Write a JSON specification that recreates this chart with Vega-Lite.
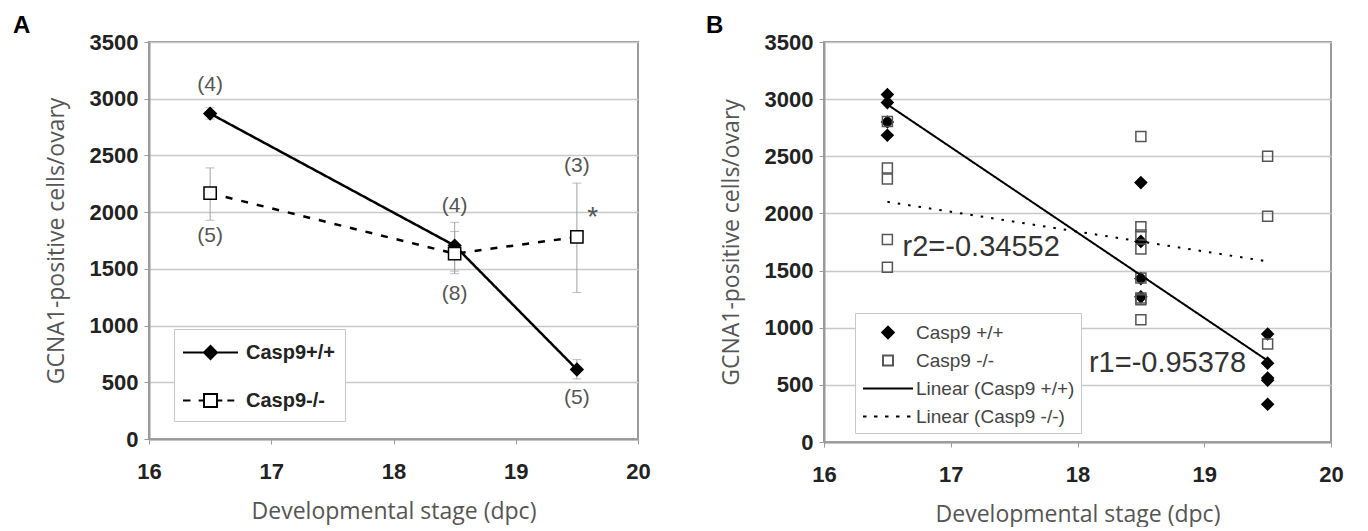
{
  "$schema": "https://vega.github.io/schema/vega-lite/v6.json",
  "background": "white",
  "padding": {"left": 12, "top": 13, "right": 0, "bottom": 0},
  "spacing": 53,
  "resolve": {
    "scale": {"shape": "independent", "fill": "independent", "stroke": "independent", "strokeDash": "independent"},
    "legend": {"shape": "independent", "fill": "independent", "stroke": "independent", "strokeDash": "independent"}
  },
  "datasets": {
    "A_means": [
      {"stage": 16.5, "count": 2869, "lo": 2820, "hi": 2920, "genotype": "Casp9+/+"},
      {"stage": 18.5, "count": 1705, "lo": 1480, "hi": 1910, "genotype": "Casp9+/+"},
      {"stage": 19.5, "count": 613, "lo": 530, "hi": 700, "genotype": "Casp9+/+"},
      {"stage": 16.5, "count": 2167, "lo": 1928, "hi": 2390, "genotype": "Casp9-/-"},
      {"stage": 18.5, "count": 1634, "lo": 1457, "hi": 1830, "genotype": "Casp9-/-"},
      {"stage": 19.5, "count": 1781, "lo": 1291, "hi": 2256, "genotype": "Casp9-/-"}
    ],
    "A_labels": [
      {"stage": 16.5, "count": 3118, "label": "(4)"},
      {"stage": 16.5, "count": 1786, "label": "(5)"},
      {"stage": 18.5, "count": 2052, "label": "(4)"},
      {"stage": 18.5, "count": 1279, "label": "(8)"},
      {"stage": 19.5, "count": 2407, "label": "(3)"},
      {"stage": 19.5, "count": 364, "label": "(5)"}
    ],
    "A_star": [
      {"stage": 19.63, "count": 1945, "label": "*"}
    ],
    "B_points": [
      {"stage": 16.5, "count": 3040, "genotype": "Casp9 +/+"},
      {"stage": 16.5, "count": 2970, "genotype": "Casp9 +/+"},
      {"stage": 16.5, "count": 2800, "genotype": "Casp9 +/+"},
      {"stage": 16.5, "count": 2684, "genotype": "Casp9 +/+"},
      {"stage": 18.5, "count": 2270, "genotype": "Casp9 +/+"},
      {"stage": 18.5, "count": 1755, "genotype": "Casp9 +/+"},
      {"stage": 18.5, "count": 1430, "genotype": "Casp9 +/+"},
      {"stage": 18.5, "count": 1270, "genotype": "Casp9 +/+"},
      {"stage": 19.5, "count": 945, "genotype": "Casp9 +/+"},
      {"stage": 19.5, "count": 690, "genotype": "Casp9 +/+"},
      {"stage": 19.5, "count": 560, "genotype": "Casp9 +/+"},
      {"stage": 19.5, "count": 540, "genotype": "Casp9 +/+"},
      {"stage": 19.5, "count": 330, "genotype": "Casp9 +/+"},
      {"stage": 16.5, "count": 2805, "genotype": "Casp9 -/-"},
      {"stage": 16.5, "count": 2397, "genotype": "Casp9 -/-"},
      {"stage": 16.5, "count": 2301, "genotype": "Casp9 -/-"},
      {"stage": 16.5, "count": 1772, "genotype": "Casp9 -/-"},
      {"stage": 16.5, "count": 1529, "genotype": "Casp9 -/-"},
      {"stage": 18.5, "count": 2674, "genotype": "Casp9 -/-"},
      {"stage": 18.5, "count": 1884, "genotype": "Casp9 -/-"},
      {"stage": 18.5, "count": 1811, "genotype": "Casp9 -/-"},
      {"stage": 18.5, "count": 1689, "genotype": "Casp9 -/-"},
      {"stage": 18.5, "count": 1436, "genotype": "Casp9 -/-"},
      {"stage": 18.5, "count": 1259, "genotype": "Casp9 -/-"},
      {"stage": 18.5, "count": 1245, "genotype": "Casp9 -/-"},
      {"stage": 18.5, "count": 1070, "genotype": "Casp9 -/-"},
      {"stage": 19.5, "count": 2500, "genotype": "Casp9 -/-"},
      {"stage": 19.5, "count": 1975, "genotype": "Casp9 -/-"},
      {"stage": 19.5, "count": 857, "genotype": "Casp9 -/-"}
    ],
    "B_trend": [
      {"stage": 16.5, "count": 2953, "trend": "Linear (Casp9 +/+)"},
      {"stage": 19.5, "count": 712, "trend": "Linear (Casp9 +/+)"},
      {"stage": 16.5, "count": 2102, "trend": "Linear (Casp9 -/-)"},
      {"stage": 19.5, "count": 1580, "trend": "Linear (Casp9 -/-)"}
    ],
    "B_r": [
      {"stage": 16.62, "count": 1702, "label": "r2=-0.34552"},
      {"stage": 18.09, "count": 695, "label": "r1=-0.95378"}
    ]
  },
  "config": {
    "view": {"stroke": "#9a9a9a", "strokeWidth": 2},
    "axis": {
      "domainColor": "#9a9a9a", "domainWidth": 2,
      "tickColor": "#9a9a9a", "tickSize": 5,
      "labelFont": "Liberation Sans", "labelFontSize": 22, "labelFontWeight": "bold", "labelColor": "#222",
      "titleFont": "Open Sans", "titleFontSize": 23, "titleFontWeight": "normal", "titleColor": "#555",
      "gridColor": "#c8c8c8", "gridWidth": 1.5
    },
    "axisX": {"grid": false, "labelPadding": 17, "titlePadding": 18, "labelFlush": false},
    "axisY": {"labelPadding": 6, "titlePadding": 21},
    "title": {"font": "Liberation Sans", "fontSize": 24, "fontWeight": "bold", "color": "black", "anchor": "start", "frame": "group"}
  },
  "hconcat": [
    {
      "title": {"text": "A", "dx": -136, "offset": -7},
      "width": 489,
      "height": 397,
      "resolve": {"scale": {"shape": "independent", "fill": "independent", "stroke": "independent"}},
      "encoding": {
        "x": {"field": "stage", "type": "quantitative", "scale": {"domain": [16, 20], "nice": false}, "axis": {"values": [16, 17, 18, 19, 20], "format": "d", "title": "Developmental stage (dpc)"}},
        "y": {"field": "count", "type": "quantitative", "scale": {"domain": [0, 3500], "nice": false}, "axis": {"values": [0, 500, 1000, 1500, 2000, 2500, 3000, 3500], "format": "d", "title": "GCNA1-positive cells/ovary"}}
      },
      "layer": [
        {
          "data": {"name": "A_means"},
          "mark": {"type": "errorbar", "ticks": {"size": 9, "color": "#a0a0a0"}, "rule": {"color": "#a0a0a0", "strokeWidth": 1}},
          "encoding": {
            "y": {"field": "lo", "type": "quantitative"},
            "y2": {"field": "hi"}
          }
        },
        {
          "data": {"name": "A_means"},
          "mark": {"type": "line", "color": "black", "strokeWidth": 2.5},
          "encoding": {
            "strokeDash": {"field": "genotype", "type": "nominal", "scale": {"domain": ["Casp9+/+", "Casp9-/-"], "range": [[1, 0], [7, 9]]}, "legend": null}
          }
        },
        {
          "data": {"name": "A_means"},
          "mark": {"type": "point", "size": 150, "strokeWidth": 1.5, "opacity": 1, "stroke": "black"},
          "encoding": {
            "shape": {"field": "genotype", "type": "nominal", "scale": {"domain": ["Casp9+/+", "Casp9-/-"], "range": ["diamond", "square"]}, "legend": null},
            "fill": {"field": "genotype", "type": "nominal", "scale": {"domain": ["Casp9+/+", "Casp9-/-"], "range": ["black", "white"]}, "legend": null}
          }
        },
        {
          "data": {"name": "A_means"},
          "mark": {"type": "point", "size": 625, "strokeWidth": 2, "opacity": 0},
          "encoding": {
            "shape": {"field": "genotype", "type": "nominal",
              "scale": {"domain": ["Casp9+/+", "Casp9-/-"], "range": ["M-2.2,0H2.2M-0.52,0L0,-0.52L0.52,0L0,0.52Z", "M-2.2,0H-1.6M-0.95,0H-0.52M-0.52,-0.52H0.52V0.52H-0.52ZM0.52,0H0.95M1.35,0H1.9"]},
              "legend": {
                "title": null, "orient": "none", "legendX": 25, "legendY": 287,
                "symbolSize": 625, "symbolStrokeWidth": 2, "symbolOpacity": 1, "symbolOffset": 13,
                "labelFont": "Liberation Sans", "labelFontSize": 20, "labelFontWeight": "bold", "labelColor": "#222", "labelOffset": 22,
                "padding": 10, "strokeColor": "#c8c8c8", "fillColor": "white", "rowPadding": 24
              }},
            "fill": {"field": "genotype", "type": "nominal", "scale": {"domain": ["Casp9+/+", "Casp9-/-"], "range": ["black", "white"]},
              "legend": {
                "title": null, "orient": "none", "legendX": 25, "legendY": 287,
                "symbolSize": 625, "symbolStrokeWidth": 2, "symbolOpacity": 1, "symbolOffset": 13,
                "labelFont": "Liberation Sans", "labelFontSize": 20, "labelFontWeight": "bold", "labelColor": "#222", "labelOffset": 22,
                "padding": 10, "strokeColor": "#c8c8c8", "fillColor": "white", "rowPadding": 24
              }},
            "stroke": {"field": "genotype", "type": "nominal", "scale": {"domain": ["Casp9+/+", "Casp9-/-"], "range": ["black", "black"]},
              "legend": {
                "title": null, "orient": "none", "legendX": 25, "legendY": 287,
                "symbolSize": 625, "symbolStrokeWidth": 2, "symbolOpacity": 1, "symbolOffset": 13,
                "labelFont": "Liberation Sans", "labelFontSize": 20, "labelFontWeight": "bold", "labelColor": "#222", "labelOffset": 22,
                "padding": 10, "strokeColor": "#c8c8c8", "fillColor": "white", "rowPadding": 24
              }}
          }
        },
        {
          "data": {"name": "A_labels"},
          "mark": {"type": "text", "font": "Liberation Sans", "fontSize": 21, "color": "#555", "baseline": "middle"},
          "encoding": {"text": {"field": "label"}}
        },
        {
          "data": {"name": "A_star"},
          "mark": {"type": "text", "font": "Liberation Sans", "fontSize": 28, "color": "#555", "baseline": "middle"},
          "encoding": {"text": {"field": "label"}}
        }
      ]
    },
    {
      "title": {"text": "B", "dx": -118, "offset": -7},
      "width": 507,
      "height": 400,
      "encoding": {
        "x": {"field": "stage", "type": "quantitative", "scale": {"domain": [16, 20], "nice": false}, "axis": {"values": [16, 17, 18, 19, 20], "format": "d", "title": "Developmental stage (dpc)"}},
        "y": {"field": "count", "type": "quantitative", "scale": {"domain": [0, 3500], "nice": false}, "axis": {"values": [0, 500, 1000, 1500, 2000, 2500, 3000, 3500], "format": "d", "title": "GCNA1-positive cells/ovary"}}
      },
      "layer": [
        {
          "data": {"name": "B_points"},
          "mark": {"type": "point", "size": 625, "strokeWidth": 1.5, "opacity": 1},
          "encoding": {
            "shape": {"field": "genotype", "type": "nominal",
              "scale": {"domain": ["Casp9 +/+", "Casp9 -/-", "Linear (Casp9 +/+)", "Linear (Casp9 -/-)"], "range": ["M-0.46,0L0,-0.46L0.46,0L0,0.46Z", "M-0.4,-0.4H0.4V0.4H-0.4Z", "M-2,0H2", "M-2,0H-1.72M-1.12,0H-0.84M-0.24,0H0.04M0.64,0H0.92M1.52,0H1.8"]},
              "legend": {
                "title": null, "orient": "none", "legendX": 31, "legendY": 271,
                "symbolSize": 625, "symbolStrokeWidth": 2, "symbolOpacity": 1, "symbolOffset": 13.5,
                "labelFont": "Liberation Sans", "labelFontSize": 19, "labelFontWeight": "normal", "labelColor": "#444", "labelOffset": 14.5,
                "padding": 6, "strokeColor": "#c8c8c8", "fillColor": "white", "rowPadding": 4
              }},
            "fill": {"field": "genotype", "type": "nominal",
              "scale": {"domain": ["Casp9 +/+", "Casp9 -/-", "Linear (Casp9 +/+)", "Linear (Casp9 -/-)"], "range": ["black", "transparent", "transparent", "transparent"]},
              "legend": {
                "title": null, "orient": "none", "legendX": 31, "legendY": 271,
                "symbolSize": 625, "symbolStrokeWidth": 2, "symbolOpacity": 1, "symbolOffset": 13.5,
                "labelFont": "Liberation Sans", "labelFontSize": 19, "labelFontWeight": "normal", "labelColor": "#444", "labelOffset": 14.5,
                "padding": 6, "strokeColor": "#c8c8c8", "fillColor": "white", "rowPadding": 4
              }},
            "stroke": {"field": "genotype", "type": "nominal",
              "scale": {"domain": ["Casp9 +/+", "Casp9 -/-", "Linear (Casp9 +/+)", "Linear (Casp9 -/-)"], "range": ["black", "#555", "black", "black"]},
              "legend": {
                "title": null, "orient": "none", "legendX": 31, "legendY": 271,
                "symbolSize": 625, "symbolStrokeWidth": 2, "symbolOpacity": 1, "symbolOffset": 13.5,
                "labelFont": "Liberation Sans", "labelFontSize": 19, "labelFontWeight": "normal", "labelColor": "#444", "labelOffset": 14.5,
                "padding": 6, "strokeColor": "#c8c8c8", "fillColor": "white", "rowPadding": 4
              }}
          }
        },
        {
          "data": {"name": "B_trend"},
          "mark": {"type": "line", "color": "black", "strokeWidth": 2},
          "encoding": {
            "strokeDash": {"field": "trend", "type": "nominal", "scale": {"domain": ["Linear (Casp9 +/+)", "Linear (Casp9 -/-)"], "range": [[1, 0], [2.5, 8]]}, "legend": null}
          }
        },
        {
          "data": {"name": "B_r"},
          "mark": {"type": "text", "font": "Liberation Sans", "fontSize": 29, "color": "#333", "align": "left", "baseline": "middle"},
          "encoding": {"text": {"field": "label"}}
        }
      ]
    }
  ]
}
